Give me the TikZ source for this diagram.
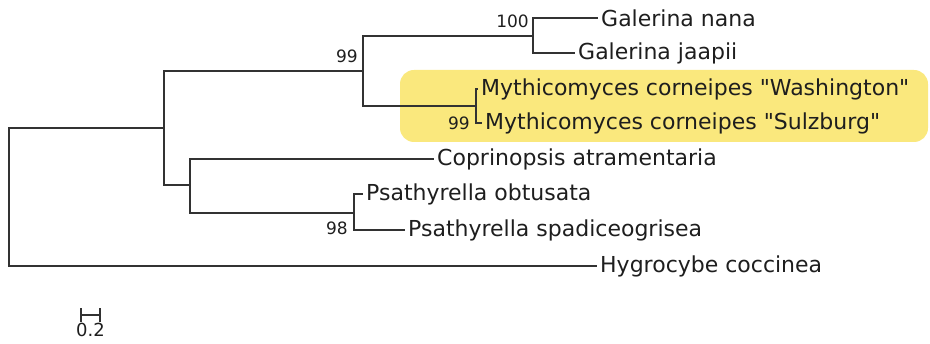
\documentclass[tikz,border=0pt]{standalone}
\usepackage{fontspec}
\setmainfont{DejaVu Sans}[Ligatures=TeXOff]
\usetikzlibrary{positioning, backgrounds, calc}
\definecolor{clade}{RGB}{250,232,125}
\definecolor{branchcol}{RGB}{50,50,50}
\definecolor{textcol}{RGB}{30,30,30}

\begin{document}
\begin{tikzpicture}[
  x=1pt, y=-1pt,
  leaf/.style={anchor=west, inner sep=3pt, font=\fontsize{22}{25}\selectfont, text=textcol},
  boot/.style={inner sep=1pt, font=\fontsize{17}{20}\selectfont, text=textcol},
  br/.style={draw=branchcol, line width=1.3pt}
]
\useasboundingbox (0,0) rectangle (930,344);

% ---- highlighted clade ----
\fill[clade, rounded corners=14pt] (400,70) rectangle (928,142);

% ---- internal nodes ----
\coordinate (root) at (9,197);
\coordinate (nA) at (164,128);
\coordinate (nB) at (363,71);
\coordinate (nG) at (533,36);
\coordinate (nM) at (476,106);
\coordinate (nC) at (190,185);
\coordinate (nP) at (354,213);

% ---- leaves ----
\node[leaf] (gnana) at (598,18) {Galerina nana};
\node[leaf] (gjaap) at (575,53) {Galerina jaapii};
\node[leaf] (mwash) at (478,89) {Mythicomyces corneipes "Washington"};
\node[leaf] (msulz) at (482,123) {Mythicomyces corneipes "Sulzburg"};
\node[leaf] (copr) at (434,159) {Coprinopsis atramentaria};
\node[leaf] (pobt) at (363,194) {Psathyrella obtusata};
\node[leaf] (pspad) at (405,230) {Psathyrella spadiceogrisea};
\node[leaf] (hygro) at (597,266) {Hygrocybe coccinea};

% ---- branches ----
\draw[br] (root) |- (nA);
\draw[br] (root) |- (hygro.west);
\draw[br] (nA) |- (nB);
\draw[br] (nA) |- (nC);
\draw[br] (nB) |- (nG);
\draw[br] (nB) |- (nM);
\draw[br] (nG) |- (gnana.west);
\draw[br] (nG) |- (gjaap.west);
\draw[br] (nM) |- (mwash.west);
\draw[br] (nM) |- (msulz.west);
\draw[br] (nC) |- (copr.west);
\draw[br] (nC) |- (nP);
\draw[br] (nP) |- (pobt.west);
\draw[br] (nP) |- (pspad.west);

% ---- support values ----
\node[boot, anchor=south east] (bG) at (530,29) {100};
\node[boot, anchor=south east] (bB) at (359,64) {99};
\node[boot, anchor=east] (bM) at (471,123) {99};
\node[boot, anchor=east] (bP) at (349,228) {98};

% ---- scale bar ----
\coordinate (sL) at (81,315);
\coordinate (sR) at (100,315);
\draw[br, line width=1.1pt] (sL) -- (sR);
\draw[br, line width=1.1pt] ([yshift=-7pt]sL) -- ([yshift=7pt]sL);
\draw[br, line width=1.1pt] ([yshift=-7pt]sR) -- ([yshift=7pt]sR);
\node[boot, font=\fontsize{18}{20}\selectfont, anchor=north] (slab) at ($(sL)!0.5!(sR)+(0,7)$) {0.2};
\end{tikzpicture}
\end{document}
